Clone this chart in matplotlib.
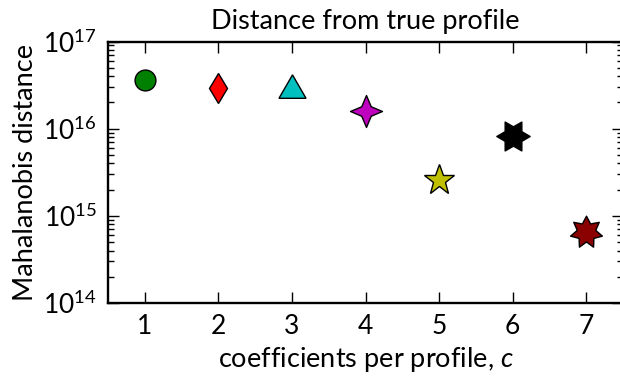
import numpy as np
import matplotlib
matplotlib.use("Agg")
import matplotlib.pyplot as plt
from matplotlib.path import Path
from matplotlib.ticker import LogLocator, FixedLocator

plt.rcParams['font.family'] = ['Lato', 'DejaVu Sans']
plt.rcParams['mathtext.fontset'] = 'custom'
plt.rcParams['mathtext.rm'] = 'Lato'
plt.rcParams['mathtext.it'] = 'Lato:italic'
plt.rcParams['mathtext.sf'] = 'Lato'

# data
coeffs = [1, 2, 3, 4, 5, 6, 7]
distances = [3.6e16, 2.9e16, 2.75e16, 1.6e16, 2.55e15, 8.2e15, 6.5e14]
colors = ['#008000', '#ff0000', '#00bfbf', '#bf00bf', '#bfbf00', '#000000', '#8b0000']

def star(n, inner, rot=0.0):
    p = Path.unit_regular_star(n, inner)
    v = p.vertices.copy()
    a = np.deg2rad(rot)
    R = np.array([[np.cos(a), -np.sin(a)], [np.sin(a), np.cos(a)]])
    v = v @ R.T
    return Path(v, p.codes)

markers = ['o', 'd', (3, 0, 0), star(4, 0.42), '*', star(6, 0.58, 30), star(7, 0.58)]
sizes = [15, 15.5, 22.5, 23, 23, 24, 23.5]

fig = plt.figure(figsize=(6.2, 3.8), dpi=100)
ax = fig.add_axes([108/620, 77/380, 515/620, 261.5/380])

for x, y, c, m, s in zip(coeffs, distances, colors, markers, sizes):
    ax.plot([x], [y], linestyle='none', marker=m, markersize=s,
            markerfacecolor=c, markeredgecolor='black', markeredgewidth=1.0)

ax.set_yscale('log')
ax.set_ylim(1e14, 1e17)
ax.set_xlim(0.5, 7.5)
ax.xaxis.set_major_locator(FixedLocator(coeffs))
ax.yaxis.set_major_locator(LogLocator(base=10, numticks=10))
ax.yaxis.set_minor_locator(LogLocator(base=10, subs=np.arange(2, 10), numticks=10))

for sp in ax.spines.values():
    sp.set_linewidth(1.7)

ax.tick_params(which='major', direction='in', length=8, width=1.0, top=True, right=True,
               labelsize=19, pad=8)
ax.tick_params(which='minor', direction='in', length=4, width=1.0, top=True, right=True)
ax.tick_params(axis='x', which='minor', bottom=False, top=False)

ax.set_title('Distance from true profile', fontsize=19.5, pad=9)
ax.set_xlabel('coefficients per profile, $\\mathit{c}$', fontsize=19.5, labelpad=4)
ax.set_ylabel('Mahalanobis distance', fontsize=19.5, labelpad=4)

fig.savefig('out.png', dpi=100)
